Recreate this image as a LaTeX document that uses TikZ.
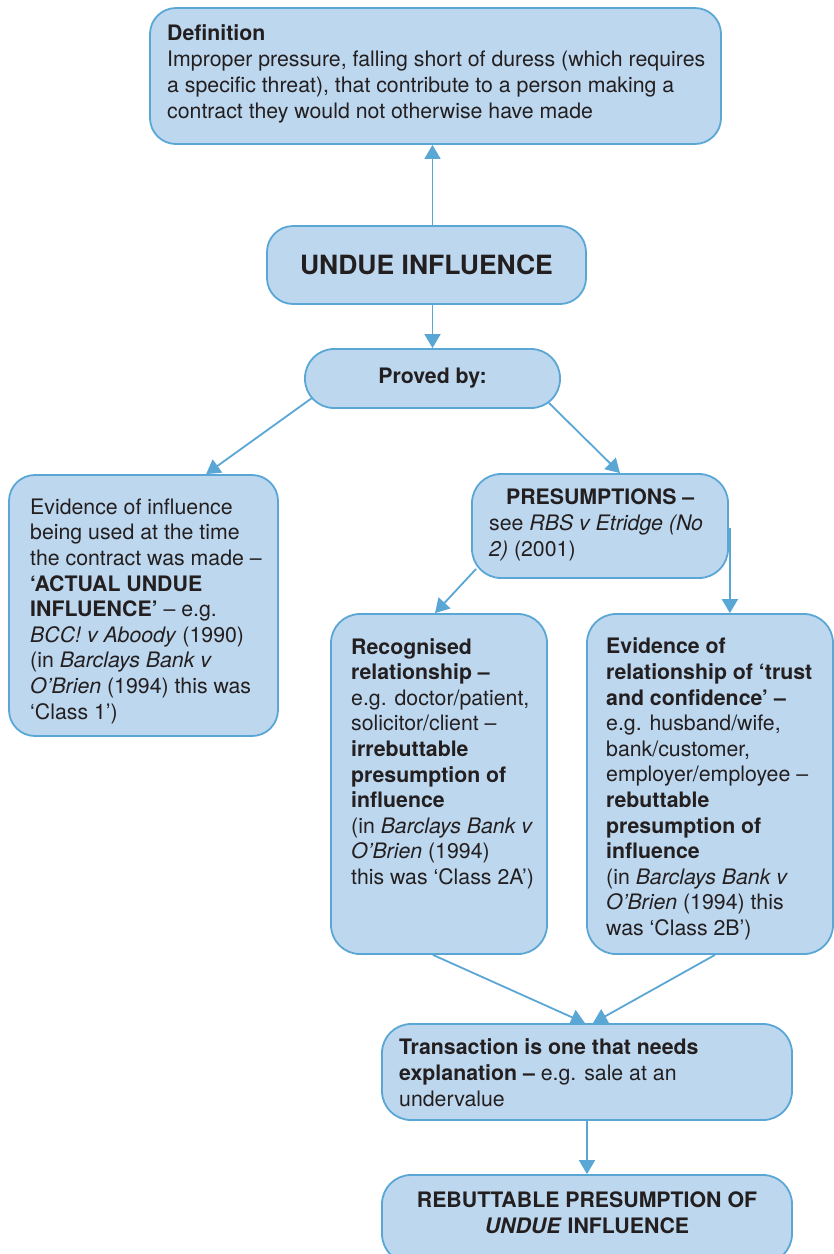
\documentclass[tikz,border=0pt]{standalone}
\usepackage{fontspec}
\setmainfont{TeX Gyre Heros}
\usetikzlibrary{arrows.meta,calc}
\definecolor{boxfill}{RGB}{189,215,238}
\definecolor{boxline}{RGB}{90,167,214}
\definecolor{ink}{RGB}{35,31,32}

\begin{document}
\begin{tikzpicture}[x=1pt,y=-1pt,
  box/.style={draw=boxline, fill=boxfill, line width=1.8pt, rounded corners=26pt, inner sep=0pt},
  % text blocks are placed by the baseline of their last line
  txt/.style={anchor=base west, align=left, inner sep=0pt, text=ink, font=\fontsize{21.3}{25.6}\selectfont},
  ctxt/.style={txt, anchor=base, align=center},
  arr/.style={draw=boxline, line width=1.8pt, -{Triangle[width=16pt,length=14pt]}}]

\fill[white] (0,0) rectangle (834,1254);
\useasboundingbox (0,0) rectangle (834,1254);

% boxes
\node[box, minimum width=571pt, minimum height=136pt] (def) at (435.5,76) {};
\node[box, minimum width=319pt, minimum height=78pt] (undue) at (426.5,265)
  {\fontsize{26.5}{30}\selectfont\bfseries\color{ink}UNDUE INFLUENCE};
\node[box, rounded corners=29pt, minimum width=255pt, minimum height=59pt] (proved) at (432.5,378.5)
  {\fontsize{21.3}{25.6}\selectfont\bfseries\color{ink}Proved by:};
\node[box, minimum width=269pt, minimum height=261pt] (actual) at (143.5,605.5) {};
\node[box, rounded corners=29pt, minimum width=256pt, minimum height=104pt] (presum) at (600,526) {};
\node[box, rounded corners=29pt, minimum width=216pt, minimum height=340pt] (recog) at (439,784) {};
\node[box, rounded corners=29pt, minimum width=246pt, minimum height=340pt] (trust) at (710,784) {};
\node[box, rounded corners=29pt, minimum width=410pt, minimum height=96pt] (trans) at (587,1072) {};
\node[box, rounded corners=29pt, minimum width=410pt, minimum height=88pt] (rebut) at (587,1219) {};

% texts
\node[txt, font=\fontsize{21.3}{26}\selectfont] (deftext) at (167,118)
  {\textbf{Definition}\\
   Improper pressure, falling short of duress (which requires\\
   a specific threat), that contribute to a person making a\\
   contract they would not otherwise have made};
\node[txt] (actualtext) at (30,719)
  {Evidence of influence\\
   being used at the time\\
   the contract was made –\\
   \textbf{‘ACTUAL UNDUE}\\
   \textbf{INFLUENCE’} – e.g.\\
   \textit{BCC! v Aboody} (1990)\\
   (in \textit{Barclays Bank v}\\
   \textit{O’Brien} (1994) this was\\
   ‘Class 1’)};
\node[txt] (presumtext) at (489,556)
  {\makebox[222pt][c]{\textbf{PRESUMPTIONS –}}\\
   see \textit{RBS v Etridge (No}\\
   \textit{2)} (2001)};
\node[txt] (recogtext) at (351,884.5)
  {\textbf{Recognised}\\
   \textbf{relationship –}\\
   e.g. doctor/patient,\\
   solicitor/client –\\
   \textbf{irrebuttable}\\
   \textbf{presumption of}\\
   \textbf{influence}\\
   (in \textit{Barclays Bank v}\\
   \textit{O’Brien} (1994)\\
   this was ‘Class 2A’)};
\node[txt] (trusttext) at (606,935.5)
  {\textbf{Evidence of}\\
   \textbf{relationship of ‘trust}\\
   \textbf{and confidence’ –}\\
   e.g. husband/wife,\\
   bank/customer,\\
   employer/employee –\\
   \textbf{rebuttable}\\
   \textbf{presumption of}\\
   \textbf{influence}\\
   (in \textit{Barclays Bank v}\\
   \textit{O’Brien} (1994) this\\
   was ‘Class 2B’)};
\node[txt] (transtext) at (399,1106)
  {\textbf{Transaction is one that needs}\\
   \textbf{explanation –} e.g. sale at an\\
   undervalue};
\node[ctxt] (rebuttext) at (587,1233.5)
  {\textbf{REBUTTABLE PRESUMPTION OF}\\
   \textbf{\textit{UNDUE} INFLUENCE}};

% connectors
\draw[arr] (undue.north -| proved.north) -- (def.south -| proved.north);
\draw[arr] (undue.south -| proved.north) -- (proved.north);
\draw[arr] ($(proved.south west)+(8,-11)$) -- ($(actual.north west)+(198,0)$);
\draw[arr] ($(proved.south east)+(-12,-6)$) -- ($(presum.north)+(20,0)$);
\draw[arr] ($(presum.south west)+(5,-10)$) -- ($(recog.north)+(-4,0)$);
\draw[arr] ($(presum.east)+(1,2)$) -- ($(presum.east |- trust.north)+(1,0)$);
\draw[arr] ($(recog.south)+(-6,0)$) -- ($(trans.north)+(-2,0)$);
\draw[arr] ($(trust.south)+(5,0)$) -- ($(trans.north)+(6,0)$);
\draw[arr] (trans.south) -- (rebut.north);
\end{tikzpicture}
\end{document}
